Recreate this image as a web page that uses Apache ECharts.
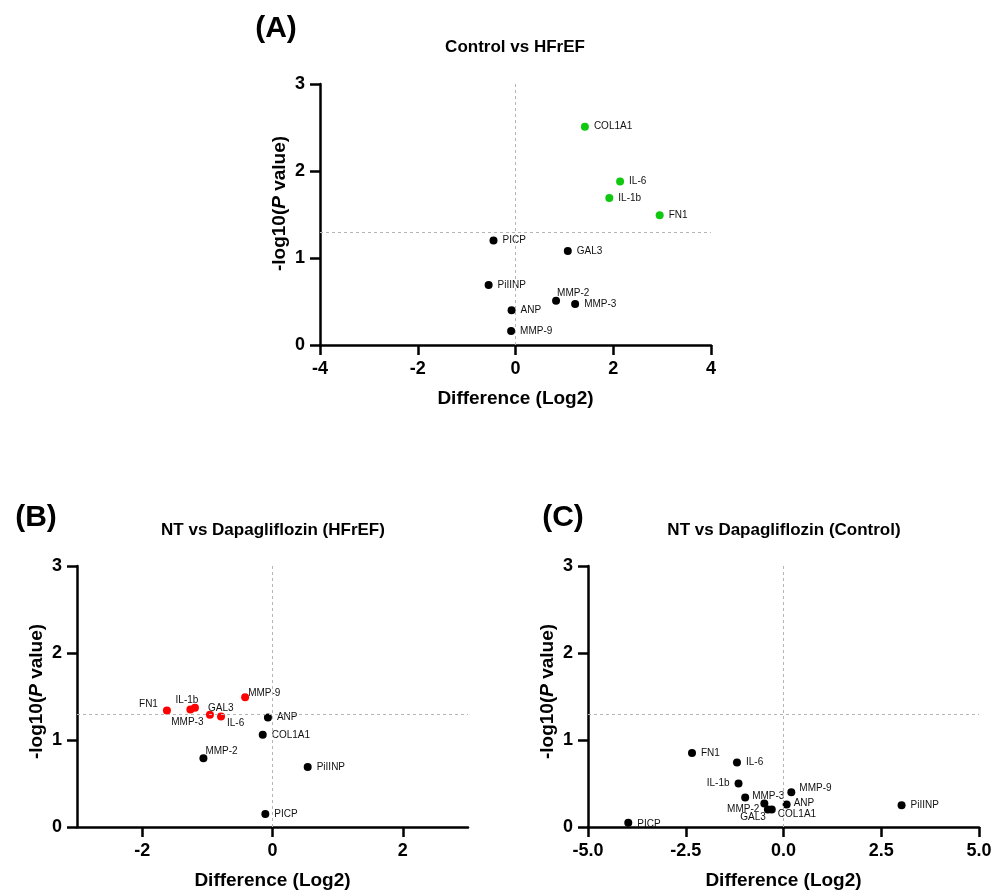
<!DOCTYPE html>
<html>
<head>
<meta charset="utf-8">
<script src="https://cdn.jsdelivr.net/npm/echarts@6/dist/echarts.min.js"></script>
<style>
  html, body { margin: 0; padding: 0; background: #fff; }
  #chart { width: 992px; height: 892px; }
</style>
</head>
<body>
<div id="chart"></div>
<script>
// volcano plots, values

// (A) Control vs HFrEF
var genesA = ['COL1A1', 'IL-6', 'IL-1b', 'FN1', 'PICP', 'GAL3', 'PiIINP', 'MMP-2', 'MMP-3', 'ANP', 'MMP-9'];
var diffA = [1.42, 2.14, 1.92, 2.95, -0.45, 1.07, -0.55, 0.83, 1.22, -0.08, -0.09];
var logpA = [2.51, 1.88, 1.69, 1.49, 1.20, 1.08, 0.69, 0.51, 0.47, 0.40, 0.16];
var sigA = [1, 1, 1, 1, 0, 0, 0, 0, 0, 0, 0];

// (B) NT vs Dapagliflozin (HFrEF)
var genesB = ['FN1', 'IL-1b', 'MMP-3', 'GAL3', 'IL-6', 'MMP-9', 'ANP', 'COL1A1', 'MMP-2', 'PiIINP', 'PICP'];
var diffB = [-1.62, -1.19, -1.26, -0.96, -0.79, -0.42, -0.07, -0.15, -1.06, 0.54, -0.11];
var logpB = [1.34, 1.37, 1.35, 1.29, 1.27, 1.49, 1.26, 1.06, 0.79, 0.69, 0.15];
var sigB = [1, 1, 1, 1, 1, 1, 0, 0, 0, 0, 0];

// (C) NT vs Dapagliflozin (Control)
var genesC = ['FN1', 'IL-6', 'IL-1b', 'MMP-9', 'MMP-3', 'MMP-2', 'ANP', 'GAL3', 'COL1A1', 'PiIINP', 'PICP'];
var diffC = [-2.34, -1.19, -1.15, 0.20, -0.98, -0.49, 0.08, -0.40, -0.30, 3.02, -3.97];
var logpC = [0.85, 0.74, 0.50, 0.40, 0.34, 0.27, 0.26, 0.20, 0.20, 0.25, 0.05];
var sigC = [0, 0, 0, 0, 0, 0, 0, 0, 0, 0, 0];

var xTicksB = [-2, 0, 2];
var pThreshold = 1.3; // -log10(0.05)

// label placement tweaks (style only)
var tweaksA = {
  'MMP-2': { offset: [-8, -7] }
};
var tweaksB = {
  'FN1': { position: 'left', offset: [0, -6] },
  'IL-1b': { position: 'top', offset: [-8, 6] },
  'MMP-3': { position: 'bottom', offset: [-3, -1] },
  'GAL3': { offset: [-11, -7] },
  'IL-6': { offset: [-3, 7] },
  'MMP-9': { offset: [-6, -4] },
  'MMP-2': { offset: [-7, -7] }
};
var tweaksC = {
  'IL-1b': { position: 'left' },
  'MMP-9': { offset: [-1, -4] },
  'MMP-3': { offset: [-2, -1] },
  'MMP-2': { position: 'left', offset: [4, 6] },
  'ANP': { offset: [-2, -1] },
  'GAL3': { position: 'left', offset: [7, 8] },
  'COL1A1': { offset: [-3, 5] },
  'PICP': { offset: [0, 2] }
};

var FONT = '"Liberation Sans", Arial, sans-serif';

function makeData(genes, xs, ys, sig, hiColor, tweaks) {
  var out = [];
  for (var i = 0; i < genes.length; i++) {
    var t = tweaks[genes[i]] || {};
    out.push({
      name: genes[i],
      value: [xs[i], ys[i]],
      itemStyle: { color: sig[i] ? hiColor : '#000', opacity: 1 },
      label: {
        position: t.position || 'right',
        offset: t.offset || [0, 0]
      }
    });
  }
  return out;
}

function makeSeries(idx, data) {
  return {
    type: 'scatter',
    xAxisIndex: idx,
    yAxisIndex: idx,
    symbolSize: 8,
    data: data,
    itemStyle: { opacity: 1 },
    label: {
      show: true,
      formatter: '{b}',
      distance: 5,
      fontSize: 10,
      color: '#111',
      fontFamily: FONT
    },
    markLine: {
      silent: true,
      symbol: ['none', 'none'],
      label: { show: false },
      lineStyle: { type: [3, 3], color: '#b5b5b5', width: 1 },
      data: [{ xAxis: 0 }, { yAxis: pThreshold }],
      animation: false
    },
    z: 3
  };
}

var axisNameStyle = { fontSize: 19, fontWeight: 'bold', color: '#000', fontFamily: FONT };
var tickLabelStyle = { margin: 15, fontSize: 18, fontWeight: 'bold', color: '#000', fontFamily: FONT };

function xAxisCfg(idx, min, max, interval, fmt, custom) {
  var ax = {
    gridIndex: idx,
    type: 'value',
    min: min,
    max: max,
    name: 'Difference (Log2)',
    nameLocation: 'middle',
    nameGap: 44,
    nameTextStyle: axisNameStyle,
    axisLine: { onZero: false, lineStyle: { color: '#000', width: 2.5 } },
    axisTick: { length: 10, lineStyle: { color: '#000', width: 2.5 } },
    axisLabel: Object.assign({ formatter: fmt }, tickLabelStyle),
    splitLine: { show: false }
  };
  if (custom) {
    ax.axisTick.customValues = custom;
    ax.axisLabel.customValues = custom;
  } else {
    ax.interval = interval;
  }
  return ax;
}

function yAxisCfg(idx, shiftUp) {
  return {
    gridIndex: idx,
    type: 'value',
    min: 0,
    max: 3,
    interval: 1,
    name: '-log10({it|P} value)',
    nameLocation: 'middle',
    nameGap: 31,
    nameTextStyle: Object.assign({
      padding: [0, 0, 0, shiftUp],
      rich: { it: { fontSize: 19, fontWeight: 'bold', fontStyle: 'italic', color: '#000', fontFamily: FONT } }
    }, axisNameStyle),
    axisLine: { onZero: false, lineStyle: { color: '#000', width: 2.5 } },
    axisTick: { length: 10, lineStyle: { color: '#000', width: 2.5 } },
    axisLabel: tickLabelStyle,
    splitLine: { show: false }
  };
}

function textEl(x, y, text, size) {
  return {
    type: 'text',
    x: x,
    y: y,
    silent: true,
    style: {
      text: text,
      fontSize: size,
      fontWeight: 'bold',
      fontFamily: FONT,
      fill: '#000',
      align: 'center',
      verticalAlign: 'middle'
    }
  };
}

var chart = echarts.init(document.getElementById('chart'));
chart.setOption({
  animation: false,
  backgroundColor: '#fff',
  grid: [
    { left: 320, top: 84, width: 391, height: 261, containLabel: false, outerBoundsMode: 'none' },
    { left: 77, top: 566, width: 391, height: 261, containLabel: false, outerBoundsMode: 'none' },
    { left: 588, top: 566, width: 391, height: 261, containLabel: false, outerBoundsMode: 'none' }
  ],
  xAxis: [
    xAxisCfg(0, -4, 4, 2),
    xAxisCfg(1, -3, 3, null, null, xTicksB),
    xAxisCfg(2, -5, 5, 2.5, function (v) { return v.toFixed(1); })
  ],
  yAxis: [yAxisCfg(0, 22), yAxisCfg(1, 10), yAxisCfg(2, 10)],
  series: [
    makeSeries(0, makeData(genesA, diffA, logpA, sigA, '#10c810', tweaksA)),
    makeSeries(1, makeData(genesB, diffB, logpB, sigB, '#ff0000', tweaksB)),
    makeSeries(2, makeData(genesC, diffC, logpC, sigC, '#000', tweaksC))
  ],
  graphic: [
    textEl(276, 29, '(A)', 30),
    textEl(36, 518, '(B)', 30),
    textEl(563, 518, '(C)', 30),
    textEl(515, 47, 'Control vs HFrEF', 17),
    textEl(273, 530, 'NT vs Dapagliflozin (HFrEF)', 17),
    textEl(784, 530, 'NT vs Dapagliflozin (Control)', 17)
  ]
});
</script>
</body>
</html>
